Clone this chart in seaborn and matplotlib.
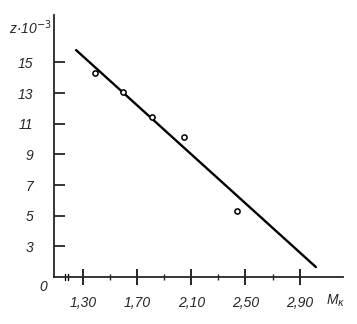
import matplotlib
matplotlib.use("Agg")
import matplotlib.pyplot as plt
import matplotlib.transforms as mtransforms
import seaborn as sns
import pandas as pd

# data
m_points = [1.389, 1.597, 1.809, 2.048, 2.441]
z_points = [14.29, 13.05, 11.42, 10.14, 5.28]
m_line = [1.251, 3.02]
z_line = [15.81, 1.65]
x_ticks = [1.30, 1.70, 2.10, 2.50, 2.90]
x_tick_labels = ["1,30", "1,70", "2,10", "2,50", "2,90"]
x_minor = [1.50, 1.90, 2.30, 2.70]
y_ticks = [3, 5, 7, 9, 11, 13, 15]
y_tick_labels = ["3", "5", "7", "9", "11", "13", "15"]

sns.set_style("ticks")
plt.rcParams['font.family'] = ['Liberation Sans', 'DejaVu Sans']

fig = plt.figure(figsize=(3.57, 3.24), dpi=100)
ax = fig.add_axes([54/357, 1-277/324, (343-54)/357, (277-15)/324])

pts = pd.DataFrame({"M": m_points, "z": z_points})
ln = pd.DataFrame({"M": m_line, "z": z_line})
sns.lineplot(data=ln, x="M", y="z", ax=ax, color="black", linewidth=1.7)
sns.scatterplot(data=pts, x="M", y="z", ax=ax, marker="o", s=14,
                facecolor="white", edgecolor="black", linewidth=1.1, zorder=3)

ax.set_xlim(1.088, 3.22)
ax.set_ylim(1.0, 18.1)
for s in ["top", "right"]:
    ax.spines[s].set_visible(False)
ax.spines["left"].set_linewidth(1.3)
ax.spines["bottom"].set_linewidth(1.3)

ax.set_xticks(x_ticks)
ax.set_xticklabels(x_tick_labels, fontstyle="italic", fontsize=10)
ax.set_xticks(x_minor, minor=True)
ax.set_yticks(y_ticks)
ax.set_yticklabels(y_tick_labels, fontstyle="italic", fontsize=10)
ax.tick_params(axis="y", direction="in", length=8, width=1.3, pad=15)
ax.tick_params(axis="x", which="major", direction="inout", length=12, width=1.4, pad=8)
ax.tick_params(axis="x", which="minor", direction="inout", length=5, width=1.0)
ax.set_xlabel("")
ax.set_ylabel("")

# axis break marks near the origin
trans = mtransforms.blended_transform_factory(ax.transData, ax.transAxes)
for xb in [1.172, 1.194]:
    ax.plot([xb, xb], [-0.012, 0.012], transform=trans, color="black",
            linewidth=1.0, clip_on=False)

fig.text(9/357, 1-28/324, "z·10$^{-3}$", fontstyle="italic", fontsize=10,
         va="center", ha="left")
fig.text(326/357, 1-301/324, "M$_{\\kappa}$", fontstyle="italic", fontsize=10,
         va="center", ha="left")
fig.text(43/357, 1-287/324, "0", fontstyle="italic", fontsize=10,
         va="center", ha="center")

fig.savefig("out.png", dpi=100)
